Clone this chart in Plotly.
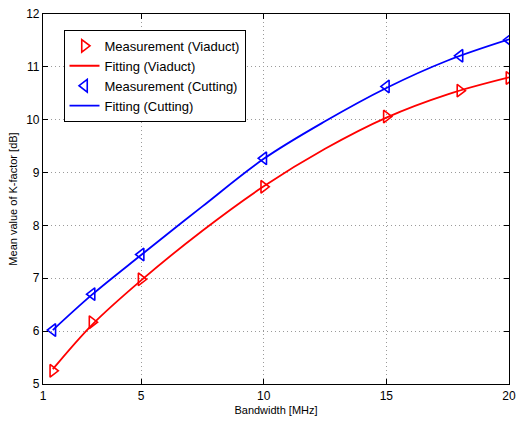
import plotly.graph_objects as go

# Bandwidths where K-factor was measured (MHz)
bandwidth = [1.4, 3, 5, 10, 15, 18, 20]
k_viaduct = [5.25, 6.17, 6.98, 8.73, 10.06, 10.55, 10.79]
k_cutting = [6.02, 6.70, 7.45, 9.27, 10.63, 11.21, 11.51]

# Fitted curves sampled along the bandwidth axis
fit_bw = [1.4, 3, 5, 7.5, 10, 12.5, 15, 17.5, 20]
fit_viaduct = [5.28, 6.12, 6.96, 7.90, 8.74, 9.45, 10.04, 10.48, 10.80]
fit_cutting = [6.02, 6.69, 7.44, 8.36, 9.26, 9.97, 10.60, 11.12, 11.52]

x_ticks = [1, 5, 10, 15, 20]

RED = "#ff0000"
BLUE = "#0000ff"
FONT = "Liberation Sans, Arial, sans-serif"

fig = go.Figure()
fig.add_trace(go.Scatter(
    x=bandwidth, y=k_viaduct, mode="markers", name="Measurement (Viaduct)",
    marker=dict(symbol="triangle-right-open", size=11, color=RED, line=dict(width=1.6, color=RED)),
))
fig.add_trace(go.Scatter(
    x=fit_bw, y=fit_viaduct, mode="lines", name="Fitting (Viaduct)",
    line=dict(color=RED, width=1.8, shape="spline"),
))
fig.add_trace(go.Scatter(
    x=bandwidth, y=k_cutting, mode="markers", name="Measurement (Cutting)",
    marker=dict(symbol="triangle-left-open", size=11, color=BLUE, line=dict(width=1.6, color=BLUE)),
))
fig.add_trace(go.Scatter(
    x=fit_bw, y=fit_cutting, mode="lines", name="Fitting (Cutting)",
    line=dict(color=BLUE, width=1.8, shape="spline"),
))

axis_common = dict(
    showline=True, linecolor="black", linewidth=1.2, mirror="ticks",
    ticks="inside", ticklen=5, tickcolor="black",
    showgrid=True, gridcolor="#9a9a9a", griddash="1px,3px", gridwidth=1,
    zeroline=False, tickfont=dict(family=FONT, size=12, color="black"),
)

fig.update_xaxes(
    range=[1, 20], tickvals=x_ticks,
    title=dict(text="Bandwidth [MHz]", font=dict(family=FONT, size=11, color="black"), standoff=4),
    **axis_common,
)
fig.update_yaxes(
    range=[5, 12], dtick=1,
    title=dict(text="Mean value of K-factor [dB]", font=dict(family=FONT, size=11, color="black"), standoff=6),
    **axis_common,
)

fig.update_layout(
    width=523, height=421,
    margin=dict(l=43, r=7, t=11, b=35),
    paper_bgcolor="white", plot_bgcolor="white",
    showlegend=True,
    legend=dict(
        x=0.044, y=0.957, xanchor="left", yanchor="top",
        bgcolor="white", bordercolor="black", borderwidth=1,
        font=dict(family=FONT, size=13, color="black"),
        tracegroupgap=0, itemwidth=30,
    ),
)

fig.write_html("out.html")
